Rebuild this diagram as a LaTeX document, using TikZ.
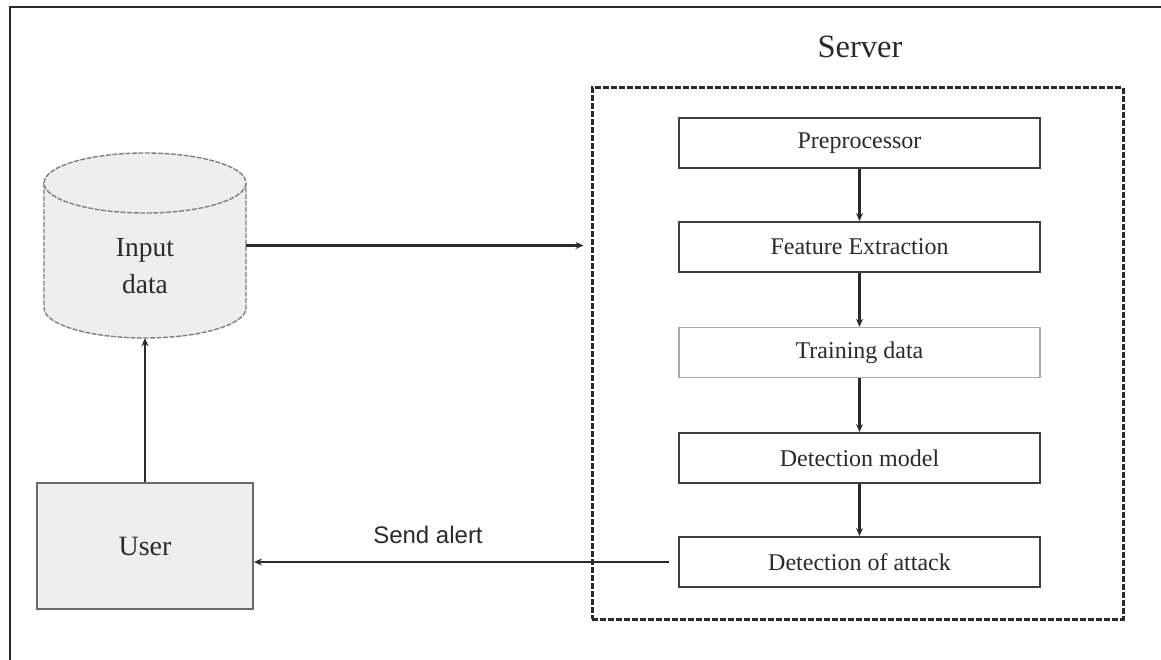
\documentclass[tikz,border=0pt]{standalone}
\usepackage{fontspec}
\setmainfont{Liberation Serif}
\newfontfamily\arialfont{Liberation Sans}
\usetikzlibrary{arrows.meta}
\definecolor{inkc}{HTML}{2A2A2A}
\definecolor{fillc}{HTML}{EEEEEE}
\tikzset{
  stagebox/.style={draw=inkc!90, line width=2pt, fill=white, minimum width=361pt, minimum height=50pt, inner sep=0pt, text=inkc, font=\fontsize{24}{28}\selectfont},
  lightbox/.style={stagebox, draw=inkc!40, line width=1.4pt},
  flow/.style={draw=inkc, line width=2.2pt, -{Stealth[length=8pt,width=7pt]}},
  serverbox/.style={draw=inkc, line width=3pt, dash pattern=on 6pt off 2pt, minimum width=531pt, minimum height=531pt, inner sep=0pt},
}
\begin{document}
\begin{tikzpicture}[x=1pt,y=-1pt]
\useasboundingbox (0,0) rectangle (1161,660);
% outer frame (cropped at right and bottom)
\draw[inkc, line width=2.6pt] (10,660) -- (10,7) -- (1161,7);

% database cylinder
\fill[fillc] (44,183) -- (44,308) arc[start angle=180, end angle=0, x radius=101, y radius=30] -- (246,183) -- cycle;
\draw[inkc!60, line width=1.4pt, dash pattern=on 5pt off 1.5pt] (44,183) -- (44,308) arc[start angle=180, end angle=0, x radius=101, y radius=30] -- (246,183);
\draw[inkc!60, line width=1.4pt, dash pattern=on 5pt off 1.5pt, fill=fillc] (145,183) ellipse[x radius=101, y radius=30];
\node[minimum width=202pt, minimum height=185pt, inner sep=0pt] (db) at (145,245.5) {};
\node[align=center, text=inkc, font=\fontsize{27.5}{37}\selectfont] (dbtext) at (145,266) {Input\\data};

% user
\node[draw=inkc!70, line width=1.8pt, fill=fillc, minimum width=216pt, minimum height=126pt, inner sep=0pt, text=inkc, font=\fontsize{28}{32}\selectfont] (user) at (145,546) {User};

% server
\node[text=inkc, font=\fontsize{32.5}{36}\selectfont] (serverlabel) at (860,47) {Server};
\node[serverbox] (server) at (857.5,353.5) {};

\node[stagebox] (pre) at (859.5,143) {Preprocessor};
\node[stagebox] (feat) at (859.5,247) {Feature Extraction};
\node[lightbox] (train) at (859.5,352.5) {Training data};
\node[stagebox] (model) at (859.5,458) {Detection model};
\node[stagebox] (attack) at (859.5,562) {Detection of attack};

% connectors
\draw[flow, shorten >=7pt] (db.east) -- (db.east -| server.west);
\draw[flow] (pre) -- (feat);
\draw[flow] (feat) -- (train);
\draw[flow] (train) -- (model);
\draw[flow] (model) -- (attack);
\draw[flow, shorten <=9pt] (attack.west) -- (attack.west -| user.east);
\draw[flow] (user) -- (db.south);

\node[text=inkc, font=\arialfont\fontsize{24}{28}\selectfont] (alert) at (428,535) {Send alert};
\end{tikzpicture}
\end{document}
